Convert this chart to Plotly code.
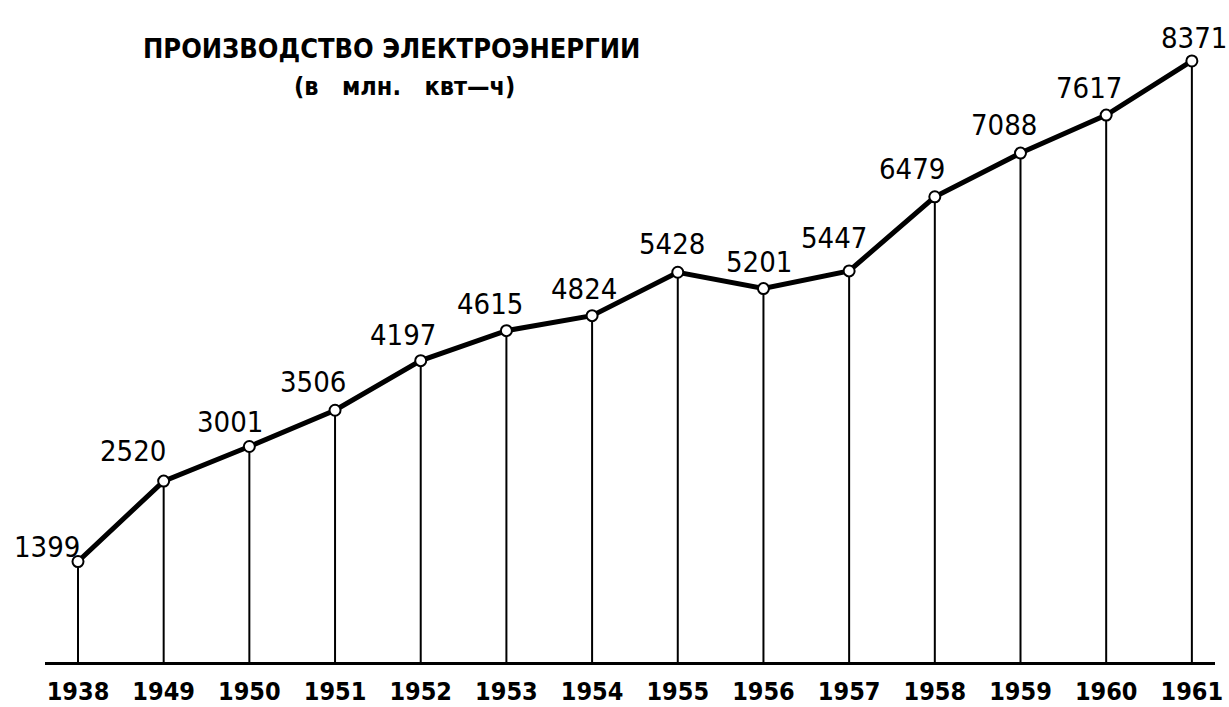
import plotly.graph_objects as go

# Electricity output, million kWh
years = ["1938", "1949", "1950", "1951", "1952", "1953", "1954",
         "1955", "1956", "1957", "1958", "1959", "1960", "1961"]
output = [1399, 2520, 3001, 3506, 4197, 4615, 4824,
          5428, 5201, 5447, 6479, 7088, 7617, 8371]

# label offsets (pixels) relative to each point
label_dx = [-31, -31, -19, -22, -18, -16, -8, -6, -4, -15, -23, -17, -17, 2]
label_dy = [15, 30, 25, 28, 26, 27, 27, 28, 27, 33, 28, 28, 27, 23]

FONT = "DejaVu Sans Condensed"

# vertical drop lines from baseline to each point
drop_x, drop_y = [], []
for yr, v in zip(years, output):
    drop_x += [yr, yr, None]
    drop_y += [0, v, None]

fig = go.Figure()
fig.add_trace(go.Scatter(
    x=drop_x, y=drop_y, mode="lines",
    line=dict(color="black", width=2), hoverinfo="skip", showlegend=False,
))
fig.add_trace(go.Scatter(
    x=years, y=output, mode="lines+markers",
    line=dict(color="black", width=5),
    marker=dict(symbol="circle", size=11, color="white",
                line=dict(color="black", width=2)),
    showlegend=False,
))

# value labels; category axes take the category index for annotation x
for i, (v, dx, dy) in enumerate(zip(output, label_dx, label_dy)):
    fig.add_annotation(
        x=i, y=v, text=str(v), showarrow=False,
        xshift=dx, yshift=dy,
        font=dict(family=FONT, size=29, color="black"),
    )

fig.add_annotation(
    text="<b>ПРОИЗВОДСТВО ЭЛЕКТРОЭНЕРГИИ</b>", showarrow=False,
    xref="paper", yref="paper",
    x=(391 - 45) / 1170, y=(662 - 48) / 632, xanchor="center", yanchor="middle",
    font=dict(family=FONT, size=27, color="black"),
)
fig.add_annotation(
    text="<b>(в   млн.   квт—ч)</b>", showarrow=False,
    xref="paper", yref="paper",
    x=(404 - 45) / 1170, y=(662 - 86) / 632, xanchor="center", yanchor="middle",
    font=dict(family=FONT, size=25, color="black"),
)

fig.update_layout(
    width=1229, height=707,
    margin=dict(l=45, r=14, t=30, b=45),
    paper_bgcolor="white", plot_bgcolor="white",
    xaxis=dict(
        type="category", range=[-0.385, 13.27], automargin=False,
        showgrid=False, zeroline=False,
        showline=True, linecolor="black", linewidth=3,
        ticks="", ticklabelstandoff=5,
        tickfont=dict(family=FONT, size=25, color="black", weight="bold"),
    ),
    yaxis=dict(
        range=[0, 8802], visible=False, showgrid=False, zeroline=False,
        automargin=False,
    ),
)

fig.write_html("out.html")
